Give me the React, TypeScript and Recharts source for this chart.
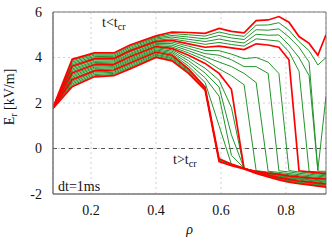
import { LineChart, Line, XAxis, YAxis, CartesianGrid, ReferenceLine, ReferenceArea, Label } from "recharts";

// radial grid (rho) and E_r profiles, one array per time slice (top = earliest)
const RHO = [0.083, 0.142, 0.21, 0.27, 0.32, 0.40, 0.449, 0.50, 0.551, 0.594, 0.632, 0.671, 0.708, 0.745, 0.778, 0.809, 0.84, 0.871, 0.898, 0.923];

const E00 = [1.80, 3.92, 4.20, 4.20, 4.55, 4.95, 5.12, 5.10, 5.06, 5.28, 5.15, 5.08, 5.62, 5.65, 5.80, 5.55, 4.92, 4.62, 4.10, 5.00];
const E01 = [1.80, 3.86, 4.15, 4.15, 4.50, 4.90, 5.05, 5.00, 4.94, 5.12, 5.00, 4.93, 5.42, 5.43, 5.53, 5.20, 4.70, 4.30, 3.67, 4.00];
const E02 = [1.80, 3.80, 4.10, 4.10, 4.45, 4.86, 4.97, 4.90, 4.82, 4.97, 4.86, 4.79, 5.22, 5.20, 5.26, 4.90, 4.45, 3.80, -0.95, 2.30];
const E03 = [1.80, 3.74, 4.04, 4.05, 4.39, 4.81, 4.90, 4.80, 4.70, 4.81, 4.71, 4.64, 5.02, 4.98, 4.99, 4.55, 4.00, 3.20, -1.00, -1.00];
const E04 = [1.80, 3.68, 3.99, 4.00, 4.34, 4.76, 4.82, 4.70, 4.58, 4.66, 4.57, 4.50, 4.82, 4.77, 4.72, 4.25, 3.40, -1.00, -1.03, -1.05];
const E05 = [1.80, 3.62, 3.94, 3.95, 4.29, 4.71, 4.75, 4.60, 4.45, 4.50, 4.42, 4.35, 4.60, 4.55, 4.45, 3.90, -0.98, -1.03, -1.07, -1.10];
const E06 = [1.80, 3.56, 3.89, 3.90, 4.24, 4.67, 4.68, 4.50, 4.31, 4.30, 4.15, 3.95, 4.00, 3.80, 3.30, -0.97, -1.03, -1.08, -1.12, -1.15];
const E07 = [1.80, 3.50, 3.83, 3.85, 4.18, 4.62, 4.61, 4.40, 4.17, 4.10, 3.90, 3.60, 3.60, 3.30, -0.98, -1.03, -1.09, -1.13, -1.17, -1.20];
const E08 = [1.79, 3.44, 3.78, 3.80, 4.13, 4.57, 4.54, 4.30, 4.03, 3.80, 3.60, 3.30, 2.90, -1.00, -1.05, -1.10, -1.15, -1.19, -1.22, -1.25];
const E09 = [1.79, 3.38, 3.73, 3.75, 4.08, 4.52, 4.47, 4.20, 3.89, 3.50, 3.20, 2.80, -0.97, -1.04, -1.10, -1.15, -1.20, -1.24, -1.27, -1.30];
const E10 = [1.79, 3.32, 3.68, 3.70, 4.03, 4.48, 4.40, 4.10, 3.74, 3.30, 2.60, -0.90, -1.00, -1.08, -1.14, -1.20, -1.25, -1.29, -1.32, -1.35];
const E11 = [1.79, 3.26, 3.62, 3.65, 3.97, 4.43, 4.34, 3.98, 3.53, 3.00, 1.80, -0.88, -1.00, -1.09, -1.16, -1.23, -1.29, -1.33, -1.37, -1.40];
const E12 = [1.78, 3.20, 3.57, 3.60, 3.92, 4.38, 4.28, 3.86, 3.32, 2.70, 0.60, -0.88, -1.01, -1.11, -1.19, -1.26, -1.32, -1.37, -1.41, -1.44];
const E13 = [1.78, 3.14, 3.52, 3.55, 3.87, 4.33, 4.22, 3.74, 3.11, 2.30, -0.30, -0.86, -1.02, -1.13, -1.22, -1.29, -1.35, -1.40, -1.44, -1.48];
const E14 = [1.78, 3.08, 3.46, 3.50, 3.82, 4.29, 4.16, 3.62, 2.90, 1.00, -0.70, -0.87, -1.03, -1.15, -1.25, -1.32, -1.39, -1.44, -1.48, -1.52];
const E15 = [1.77, 3.02, 3.41, 3.45, 3.76, 4.24, 4.10, 3.50, 2.70, -0.45, -0.68, -0.87, -1.04, -1.17, -1.28, -1.36, -1.43, -1.48, -1.52, -1.56];
const E16 = [1.77, 2.96, 3.36, 3.40, 3.71, 4.19, 4.05, 3.46, 2.67, -0.48, -0.70, -0.88, -1.05, -1.19, -1.30, -1.39, -1.46, -1.51, -1.55, -1.59];
const E17 = [1.77, 2.90, 3.31, 3.35, 3.66, 4.14, 4.00, 3.42, 2.65, -0.50, -0.71, -0.88, -1.06, -1.20, -1.32, -1.41, -1.49, -1.54, -1.58, -1.62];
const E18 = [1.76, 2.84, 3.25, 3.30, 3.60, 4.10, 3.95, 3.38, 2.62, -0.53, -0.72, -0.89, -1.07, -1.22, -1.34, -1.44, -1.52, -1.57, -1.61, -1.65];
const E19 = [1.76, 2.78, 3.20, 3.25, 3.55, 4.05, 3.90, 3.34, 2.60, -0.55, -0.74, -0.89, -1.08, -1.23, -1.36, -1.46, -1.54, -1.59, -1.63, -1.68];
const E20 = [1.76, 2.72, 3.15, 3.20, 3.50, 4.00, 3.85, 3.30, 2.57, -0.58, -0.75, -0.90, -1.10, -1.25, -1.38, -1.48, -1.55, -1.60, -1.65, -1.70];

const CURVES = [E00, E01, E02, E03, E04, E05, E06, E07, E08, E09, E10, E11, E12, E13, E14, E15, E16, E17, E18, E19, E20];
const RED = [0, 5, 10, 15, 20]; // every 5th slice highlighted

const X_TICKS = [0.2, 0.4, 0.6, 0.8];
const Y_TICKS = [-2, 0, 2, 4, 6];

const FONT = "'Liberation Serif', 'Times New Roman', serif";
const GREEN = "#23952a";

const data = RHO.map((rho, i) => {
  const row: Record<string, number> = { rho };
  CURVES.forEach((c, k) => { row[`c${k}`] = c[i]; });
  return row;
});

const greens = CURVES.map((_, k) => k).filter((k) => !RED.includes(k));

const txt: React.CSSProperties = { position: "absolute", fontFamily: FONT, fontSize: 14, lineHeight: "14px", color: "#111", whiteSpace: "nowrap" };
const sub: React.CSSProperties = { fontSize: 10, position: "relative", top: 3 };

// x-axis title drawn inside the svg, centred under the plot
const RhoLabel = (props: any) => {
  const vb = props.viewBox || { x: 53, y: 194, width: 273 };
  return (
    <text x={vb.x + vb.width / 2} y={vb.y + 40} textAnchor="middle" fontFamily={FONT} fontSize={14} fontStyle="italic" fill="#111">
      ρ
    </text>
  );
};

export default function App() {
  return (
    <div style={{ position: "absolute", left: 0, top: 0, width: 332, height: 243, background: "#fff" }}>
      <LineChart width={332} height={243} data={data} margin={{ top: 12, right: 6, left: 0, bottom: 0 }}>
        <CartesianGrid stroke="#d0d0d0" strokeDasharray="2 3" />
        <XAxis
          type="number" dataKey="rho" domain={[0.083, 0.923]} ticks={X_TICKS} allowDataOverflow
          height={49} tickSize={0} tickMargin={11} axisLine={{ stroke: "#777" }}
          tick={{ fill: "#111", fontSize: 14, fontFamily: FONT }}
          tickFormatter={(v: number) => v.toFixed(1)}
        >
          <Label content={<RhoLabel />} />
        </XAxis>
        <YAxis
          type="number" domain={[-2, 6]} ticks={Y_TICKS} allowDataOverflow
          width={53} tickSize={0} tickMargin={11} axisLine={{ stroke: "#777" }}
          tick={{ fill: "#111", fontSize: 14, fontFamily: FONT }}
        />
        <ReferenceLine y={0} stroke="#555" strokeDasharray="4 4" />
        {greens.map((k) => (
          <Line key={k} dataKey={`c${k}`} stroke={GREEN} strokeWidth={1} dot={false} isAnimationActive={false} />
        ))}
        {RED.map((k) => (
          <Line key={k} dataKey={`c${k}`} stroke="#ff0000" strokeWidth={1.7} dot={false} isAnimationActive={false} />
        ))}
        <ReferenceArea x1={0.083} x2={0.923} y1={-2} y2={6} fill="none" stroke="#777" ifOverflow="visible" />
      </LineChart>

      <div style={{ ...txt, left: 102, top: 16 }}>t&lt;t<span style={sub}>cr</span></div>
      <div style={{ ...txt, left: 173, top: 153 }}>t&gt;t<span style={sub}>cr</span></div>
      <div style={{ ...txt, left: 58, top: 180 }}>dt=1ms</div>
      <div style={{ ...txt, left: 10, top: 97, transform: "translate(-50%, -50%) rotate(-90deg)" }}>
        E<span style={sub}>r</span> [kV/m]
      </div>
    </div>
  );
}
